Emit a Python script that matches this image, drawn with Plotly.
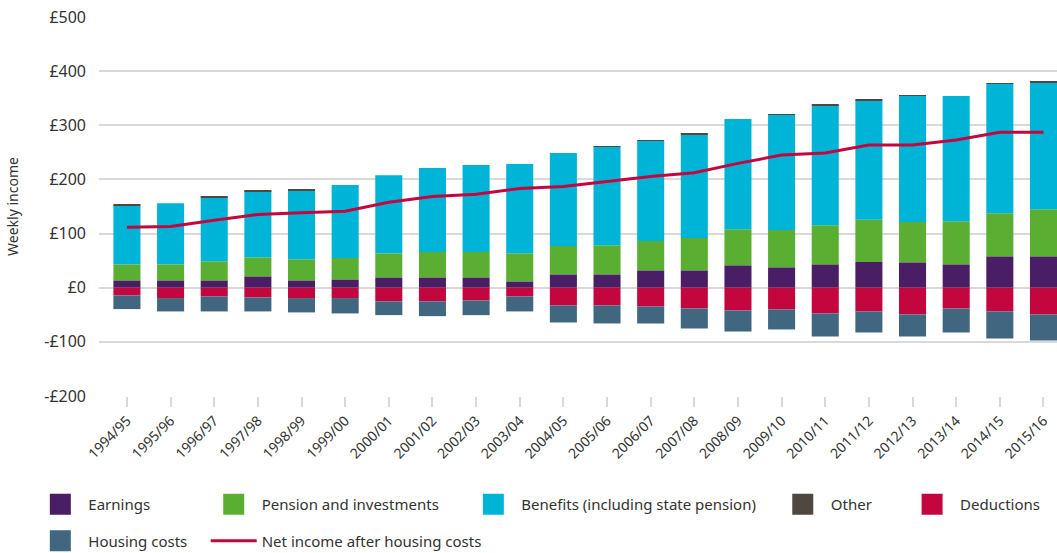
import plotly.graph_objects as go

years = ["1994/95", "1995/96", "1996/97", "1997/98", "1998/99", "1999/00",
         "2000/01", "2001/02", "2002/03", "2003/04", "2004/05", "2005/06",
         "2006/07", "2007/08", "2008/09", "2009/10", "2010/11", "2011/12",
         "2012/13", "2013/14", "2014/15", "2015/16"]

earnings = [13.6, 13.6, 13.6, 21, 13.6, 15.4, 19.1, 19.1, 19.1, 11.7, 24.7, 24.7,
            32.1, 32.1, 41.4, 37.7, 43.2, 47.5, 46.9, 43.2, 58, 58]
pension = [29.6, 29.6, 35.2, 35.2, 38.9, 39.5, 44.4, 46.9, 46.9, 51.9, 52.5, 53.7,
           54.3, 59.9, 66.7, 69.1, 72.2, 77.8, 74.7, 79.6, 79.6, 87]
benefits = [109.3, 113, 118.5, 122.2, 127.8, 134.6, 144.4, 155, 160.5, 164.8, 171.6, 181.5,
            184.6, 190.1, 203.7, 212.4, 220.4, 220.4, 232.7, 231.5, 238.9, 233.3]
other = [1.5, 0, 1.5, 1.5, 1.5, 0, 0, 0, 0, 0, 0, 1.5,
         1.5, 3.5, 0, 1.5, 3, 1.5, 1.5, 0, 1.5, 3]
deductions = [-14.2, -19.1, -16, -17.9, -19.1, -19.1, -25.3, -25.3, -23.5, -16, -32.7, -32.7,
              -34.6, -38.3, -42, -40.1, -47.5, -43.8, -49.4, -38.3, -43.8, -49.4]
housing = [-25.3, -24.7, -27.8, -25.9, -26.5, -28.4, -25.3, -27.2, -27.2, -27.8, -31.5, -33.3,
           -31.5, -37, -38.9, -37, -42.6, -38.9, -40.7, -44.4, -50, -48.1]
net_income = [111.7, 113, 124.7, 135.2, 138.3, 141.4, 158, 168.5, 172.8, 183.3, 187, 195.7,
              205.6, 212.4, 229.6, 245, 248.8, 263.6, 263.6, 272.8, 287, 287]

y_ticks = [-200, -100, 0, 100, 200, 300, 400, 500]
y_tick_labels = ["-£200", "-£100", "£0", "£100", "£200", "£300", "£400", "£500"]

series = [
    ("Earnings", earnings, "#4a1e64", "legend"),
    ("Pension and investments", pension, "#5aaf32", "legend2"),
    ("Benefits (including state pension)", benefits, "#00b4d7", "legend3"),
    ("Other", other, "#4f4840", "legend4"),
    ("Deductions", deductions, "#c4063e", "legend5"),
    ("Housing costs", housing, "#416680", "legend"),
]

font = "Noto Sans, sans-serif"
text_color = "#333333"
grid_color = "#d9d9d9"

fig = go.Figure()

for name, values, color, leg in series:
    fig.add_trace(
        go.Bar(
            x=years,
            y=values,
            name=name,
            marker_color=color,
            marker_line_width=0,
            width=0.62,
            showlegend=False,
        )
    )

# legend swatches (bar legend squares are too small)
for name, values, color, leg in series:
    fig.add_trace(
        go.Scatter(
            x=[None],
            y=[None],
            mode="markers",
            name=name,
            legend=leg,
            legendgroup=name,
            marker=dict(symbol="square", size=16, color=color,
                        line=dict(color=color, width=5)),
        )
    )

fig.add_trace(
    go.Scatter(
        x=years,
        y=net_income,
        mode="lines",
        name="Net income after housing costs",
        legend="legend2",
        legendgroup="net",
        line=dict(color="#c4063e", width=3),
    )
)

leg_style = dict(
    orientation="v",
    yanchor="top",
    y=-0.2426,
    xanchor="left",
    font=dict(family=font, size=15, color=text_color),
    itemwidth=46,
    tracegroupgap=14,
    bgcolor="rgba(0,0,0,0)",
)

fig.update_layout(
    width=1057,
    height=553,
    margin=dict(l=99, r=0, t=17, b=157, autoexpand=False),
    barmode="relative",
    plot_bgcolor="white",
    paper_bgcolor="white",
    font=dict(family=font, size=15, color=text_color),
    legend=dict(leg_style, x=-0.0696),
    legend2=dict(leg_style, x=0.1114),
    legend3=dict(leg_style, x=0.3824),
    legend4=dict(leg_style, x=0.7054),
    legend5=dict(leg_style, x=0.8404),
    xaxis=dict(
        type="category",
        range=[-0.64, 21.31],
        tickangle=-45,
        ticks="outside",
        ticklen=10,
        tickcolor=grid_color,
        tickwidth=1.5,
        showgrid=False,
        showline=False,
        tickfont=dict(family=font, size=14, color=text_color),
    ),
    yaxis=dict(
        title=dict(text="Weekly income", font=dict(family=font, size=14, color=text_color), standoff=22),
        range=[-200, 500],
        tickvals=y_ticks,
        ticktext=y_tick_labels,
        showgrid=True,
        gridcolor=grid_color,
        gridwidth=1.5,
        zeroline=True,
        zerolinecolor=grid_color,
        zerolinewidth=1.5,
        ticks="",
        ticklabelstandoff=12,
        tickfont=dict(family=font, size=16, color=text_color),
    ),
)

# drop the default page margin so the figure fills the window
fig.write_html(
    "out.html",
    config={"displayModeBar": False},
    post_script="document.body.style.margin = '0';",
)
